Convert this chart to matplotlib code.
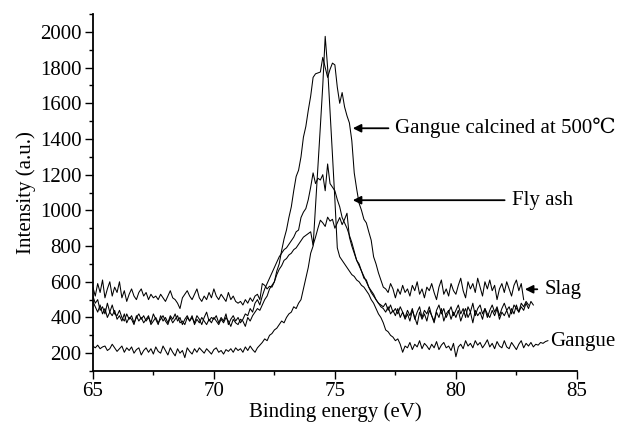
import numpy as np
import matplotlib
matplotlib.use("Agg")
import matplotlib.pyplot as plt

plt.rcParams["font.family"] = ["Liberation Serif", "DejaVu Serif", "Noto Sans CJK SC"]

# Spectra, 0.1 eV steps starting at 65.0 eV
step = 0.1

# Broad peak (ends at the "Slag" arrow)
broad = [
    570, 520, 590, 540, 610, 510, 560, 600, 520, 570,
    540, 600, 510, 550, 490, 530, 560, 520, 500, 540,
    560, 520, 540, 500, 530, 510, 520, 500, 530, 510,
    490, 520, 550, 510, 500, 480, 450, 510, 530, 550,
    520, 500, 530, 560, 510, 490, 520, 500, 540, 510,
    560, 520, 500, 530, 510, 490, 540, 500, 520, 490,
    480, 490, 470, 500, 480, 510, 490, 520, 530, 500,
    590, 580, 560, 575, 570, 600, 660, 700, 775, 840,
    890, 960, 1020, 1110, 1190, 1225, 1300, 1410, 1470, 1560,
    1640, 1745, 1765, 1770, 1775, 1857, 1800, 1745, 1790, 1825,
    1815, 1690, 1600, 1660, 1580, 1530, 1490, 1390, 1210, 1120,
    1040, 1000, 950, 930, 880, 833, 740, 700, 650, 610,
    570, 560, 540, 590, 560, 510, 560, 530, 580, 540,
    560, 520, 580, 550, 600, 530, 560, 510, 570, 550,
    590, 540, 500, 570, 610, 530, 560, 520, 590, 550,
    530, 580, 620, 550, 510, 600, 560, 590, 540, 620,
    570, 520, 600, 560, 610, 550, 580, 500, 560, 590,
    540, 600, 560, 520, 580, 610, 550, 590, 500,
]

# Medium peak (~1200)
medium = [
    490, 460, 430, 470, 420, 450, 400, 430, 470, 420,
    410, 440, 400, 380, 420, 390, 410, 370, 400, 420,
    390, 410, 380, 400, 370, 420, 390, 360, 410, 380,
    400, 370, 410, 390, 420, 380, 400, 360, 390, 410,
    380, 400, 370, 410, 390, 360, 400, 430, 380, 400,
    390, 410, 370, 400, 380, 420, 360, 390, 410, 380,
    400, 370, 390, 420, 410, 450, 430, 480, 500, 470,
    520, 560, 590, 620, 650, 680, 710, 740, 760, 780,
    790, 810, 830, 850, 880, 890, 960, 990, 1010, 1060,
    1130, 1210, 1150, 1180, 1170, 1200, 1110, 1260, 1150, 1130,
    1110, 1060, 1020, 960, 930, 900, 860, 820, 770, 720,
    690, 660, 620, 610, 570, 550, 530, 500, 480, 470,
    460, 480, 440, 470, 430, 450, 420, 460, 430, 400,
    440, 410, 450, 390, 430, 460, 400, 440, 420, 460,
    410, 380, 440, 470, 420, 450, 400, 430, 460, 410,
    440, 470, 420, 450, 400, 460, 430, 480, 410, 450,
    470, 420, 450, 400, 440, 470, 430, 460, 410, 450,
    480, 440, 460, 420, 470, 450, 430, 480, 460, 490,
    470,
]

# Lower peak (~950)
lower = [
    520, 480, 500, 440, 460, 420, 480, 430, 410, 440,
    390, 410, 380, 420, 370, 400, 390, 360, 410, 380,
    400, 370, 390, 410, 360, 380, 400, 370, 390, 410,
    380, 360, 400, 370, 390, 410, 370, 380, 360, 400,
    380, 410, 360, 390, 370, 400, 380, 360, 390, 370,
    400, 380, 360, 390, 370, 400, 380, 350, 390, 370,
    360, 390, 380, 350, 400, 380, 410, 430, 450, 440,
    470, 500, 520, 560, 580, 600, 640, 670, 690, 720,
    730, 750, 760, 780, 790, 810, 830, 850, 860, 870,
    880, 805, 850, 900, 945, 930, 910, 962, 940, 950,
    900, 930, 960, 920, 950, 984, 850, 800, 760, 720,
    700, 660, 630, 600, 570, 540, 520, 500, 480, 460,
    450, 430, 460, 420, 440, 410, 450, 400, 430, 390,
    420, 380, 440, 400, 360, 430, 390, 420, 380, 440,
    410, 370, 430, 400, 450, 380, 420, 440, 390, 430,
    400, 440, 380, 420, 450, 400, 430, 370, 440, 410,
    430, 390, 450, 420, 400, 440, 410, 450, 390, 430,
    410, 440, 400, 450, 420, 470, 430, 460, 440, 480,
    450, 490, 470,
]

# Gangue (with the narrow spike)
gangue = [
    240, 230, 245, 225, 235, 240, 215, 225, 250, 230,
    210, 225, 240, 205, 230, 215, 235, 200, 220, 230,
    190, 215, 230, 205, 225, 195, 235, 210, 200, 240,
    215, 190, 230, 205, 185, 225, 200, 215, 175, 230,
    210, 195, 225, 205, 230, 215, 200, 225, 210, 195,
    220, 230, 205, 215, 195, 220, 210, 225, 205, 230,
    215, 225, 205, 235, 215, 240, 220, 205, 230, 245,
    260, 280, 270, 300, 310, 330, 340, 360, 380, 370,
    400, 420, 430, 460, 450, 480, 500, 560, 620, 680,
    760, 800, 1020, 1250, 1470, 1700, 1975, 1800, 1560, 1310,
    1060, 790, 740, 720, 700, 680, 660, 640, 630, 610,
    600, 580, 570, 550, 530, 500, 480, 450, 420, 400,
    370, 330, 320, 300, 290, 270, 280, 250, 205, 240,
    230, 260, 220, 250, 235, 270, 225, 255, 240, 220,
    250, 230, 265, 220, 245, 260, 230, 240, 215, 255,
    180, 235, 250, 225, 270, 240, 255, 230, 270, 245,
    260, 230, 250, 275, 235, 255, 225, 265, 240, 230,
    270, 235, 225, 260, 240, 220, 250, 270, 230, 255,
    240, 260, 235, 250, 245, 260, 255, 265, 270,
]

fig = plt.figure(figsize=(6.19, 4.25), dpi=100)
ax = fig.add_axes([0.150, 0.127, 0.782, 0.840])

for series in [broad, medium, lower, gangue]:
    energy = 65.0 + step * np.arange(len(series))
    ax.plot(energy, series, color="black", lw=0.75)

ax.set_xlim(65, 85)
ax.set_ylim(100, 2100)
ax.set_xticks([65, 70, 75, 80, 85])
ax.set_xticks(np.arange(67.5, 85, 5), minor=True)
ax.set_yticks(np.arange(200, 2001, 200))
ax.set_yticks(np.arange(100, 2101, 200), minor=True)
ax.tick_params(which="major", direction="out", length=6, width=1.0,
               labelsize=15, pad=2)
ax.tick_params(which="minor", direction="out", length=3, width=1.0)
ax.spines["top"].set_visible(False)
ax.spines["right"].set_visible(False)
ax.spines["left"].set_linewidth(1.3)
ax.spines["bottom"].set_linewidth(1.3)

ax.set_xlabel("Binding energy (eV)", fontsize=15, labelpad=1)
ax.set_ylabel("Intensity (a.u.)", fontsize=15, labelpad=3)

arrow = dict(arrowstyle="-|>", color="black", lw=1.3, mutation_scale=12,
             shrinkA=3, shrinkB=0)
ax.annotate("Gangue calcined at 500\u2103", xy=(75.74, 1460), xytext=(77.5, 1460),
            fontsize=15, va="center", ha="left", arrowprops=arrow,
            annotation_clip=False)
ax.annotate("Fly ash", xy=(75.74, 1057), xytext=(82.3, 1057),
            fontsize=15, va="center", ha="left", arrowprops=arrow,
            annotation_clip=False)
ax.annotate("Slag", xy=(82.85, 558), xytext=(83.65, 558),
            fontsize=15, va="center", ha="left", arrowprops=arrow,
            annotation_clip=False)
ax.text(83.9, 267, "Gangue", fontsize=15, va="center", ha="left", clip_on=False)

fig.savefig("out.png", dpi=100)
